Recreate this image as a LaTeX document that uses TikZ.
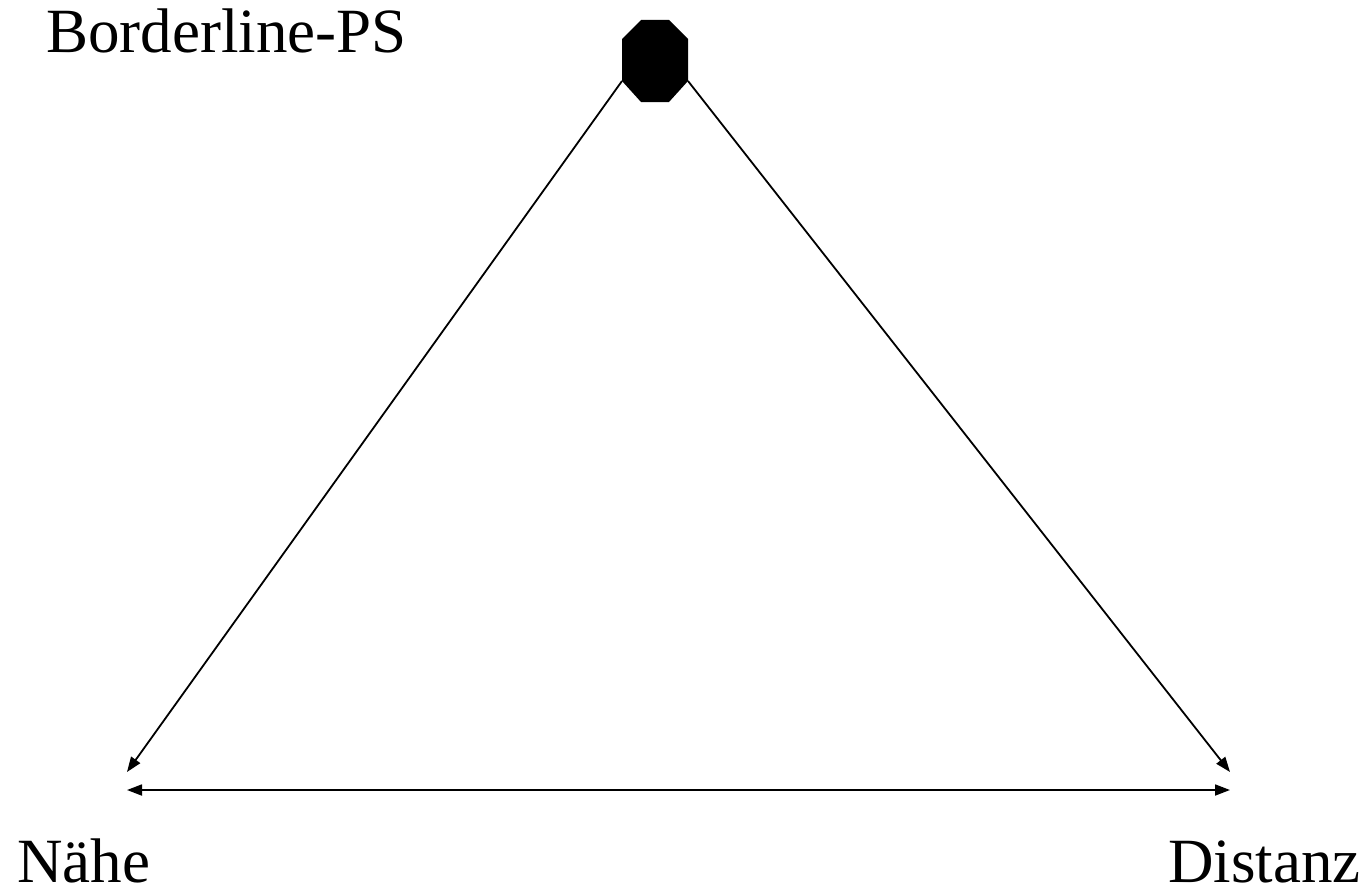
\documentclass[tikz,border=0pt]{standalone}
\usepackage{fontspec}
\setmainfont{Liberation Serif}
\usetikzlibrary{arrows.meta}
\begin{document}
\begin{tikzpicture}[x=1pt,y=-1pt,
  lbl/.style={inner sep=0pt,font=\fontsize{63}{63}\selectfont},
  conn/.style={line width=1.8pt,-{Triangle[length=15pt,width=11pt]}},
  both/.style={line width=1.8pt,{Triangle[length=15pt,width=11pt]}-{Triangle[length=15pt,width=11pt]}}]
\useasboundingbox (0,0) rectangle (1368,891);
\fill (641,20) -- (669,20) -- (688,39) -- (688,81) -- (669,102) -- (641,102) -- (622,81) -- (622,39) -- cycle;
\coordinate (octL) at (622,81);
\coordinate (octR) at (688,81);
\coordinate (nT) at (127,772);
\coordinate (dT) at (1230,772);
\coordinate (hL) at (127,790);
\coordinate (hR) at (1230,790);
\draw[conn] (octL) -- (nT);
\draw[conn] (octR) -- (dT);
\draw[both] (hL) -- (hR);
\node[lbl,anchor=base west] (bps) at (46,53) {Borderline-PS};
\node[lbl,anchor=base west] (nahe) at (17,882) {Nähe};
\node[lbl,anchor=base east] (dist) at (1361,882) {Distanz};
\end{tikzpicture}
\end{document}
